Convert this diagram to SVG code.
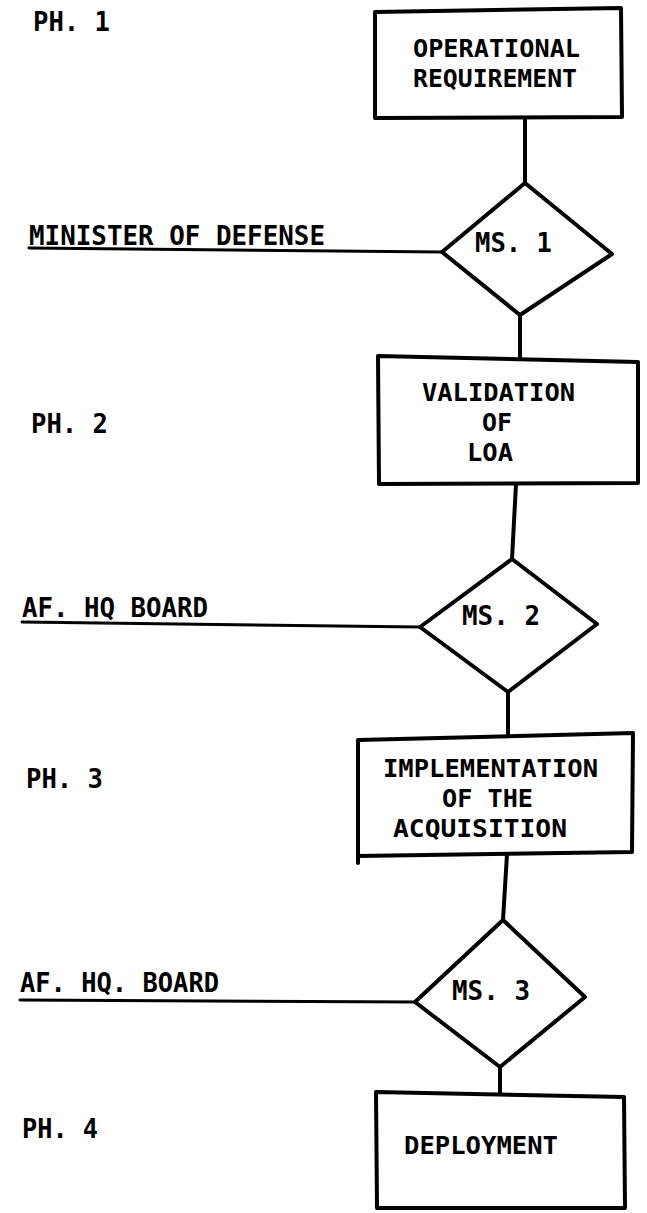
<svg xmlns="http://www.w3.org/2000/svg" width="647" height="1213" viewBox="0 0 647 1213">
<style>
.s{fill:#fff;stroke:#000;stroke-width:4;stroke-linejoin:round}
.c{fill:none;stroke:#000;stroke-width:4;stroke-linecap:round}
.u{fill:none;stroke:#000;stroke-width:3;stroke-linecap:round}
text{font-family:"DejaVu Sans Mono","Liberation Mono",monospace;font-weight:bold;font-size:26px;fill:#000}
.b{font-size:24px}
</style>
<rect width="647" height="1213" fill="#fff"/>
<g id="connectors">
<path class="c" d="M525,117 L525,183"/>
<path class="c" d="M520,315 L520,358"/>
<path class="c" d="M516,484 L512,559"/>
<path class="c" d="M508,692 L508,737"/>
<path class="c" d="M507,854 L503,920"/>
<path class="c" d="M500,1067 L500,1094"/>
<path class="u" d="M29,248 L442,252"/>
<path class="u" d="M22,622 L420,627"/>
<path class="u" d="M20,1000 L415,1002"/>
</g>
<g id="ph1"><text x="33" y="31" textLength="77" lengthAdjust="spacingAndGlyphs">PH. 1</text></g>
<g id="ph2"><text x="31" y="433" textLength="77" lengthAdjust="spacingAndGlyphs">PH. 2</text></g>
<g id="ph3"><text x="26" y="788" textLength="77" lengthAdjust="spacingAndGlyphs">PH. 3</text></g>
<g id="ph4"><text x="22" y="1138" textLength="76" lengthAdjust="spacingAndGlyphs">PH. 4</text></g>
<g id="label-minister"><text x="29" y="245" textLength="296" lengthAdjust="spacingAndGlyphs">MINISTER OF DEFENSE</text></g>
<g id="label-afhq"><text x="22" y="617" textLength="186" lengthAdjust="spacingAndGlyphs">AF. HQ BOARD</text></g>
<g id="label-afhq2"><text x="20" y="992" textLength="199" lengthAdjust="spacingAndGlyphs">AF. HQ. BOARD</text></g>
<g id="op-req">
<path class="s" d="M375,12 L621,8 L622,117 L375,118 Z"/>
<text class="b" x="413" y="57" textLength="167" lengthAdjust="spacingAndGlyphs">OPERATIONAL</text>
<text class="b" x="413" y="87" textLength="164" lengthAdjust="spacingAndGlyphs">REQUIREMENT</text>
</g>
<g id="ms1">
<path class="s" d="M525,183 L612,254 L520,315 L442,252 Z"/>
<text x="475" y="252" textLength="77" lengthAdjust="spacingAndGlyphs">MS. 1</text>
</g>
<g id="validation">
<path class="s" d="M378,356 L638,362 L638,483 L379,484 Z"/>
<text class="b" x="422" y="401" textLength="153" lengthAdjust="spacingAndGlyphs">VALIDATION</text>
<text class="b" x="482" y="431" textLength="30" lengthAdjust="spacingAndGlyphs">OF</text>
<text class="b" x="467" y="461" textLength="46" lengthAdjust="spacingAndGlyphs">LOA</text>
</g>
<g id="ms2">
<path class="s" d="M512,559 L597,624 L508,692 L420,627 Z"/>
<text x="462" y="625" textLength="78" lengthAdjust="spacingAndGlyphs">MS. 2</text>
</g>
<g id="implementation">
<path class="s" d="M358,740 L633,733 L632,852 L358,856 Z"/>
<path class="c" d="M358,856 L358,863"/>
<text class="b" x="383" y="777" textLength="215" lengthAdjust="spacingAndGlyphs">IMPLEMENTATION</text>
<text class="b" x="442" y="807" textLength="91" lengthAdjust="spacingAndGlyphs">OF THE</text>
<text class="b" x="393" y="837" textLength="174" lengthAdjust="spacingAndGlyphs">ACQUISITION</text>
</g>
<g id="ms3">
<path class="s" d="M503,920 L585,997 L500,1067 L415,1002 Z"/>
<text x="452" y="1000" textLength="78" lengthAdjust="spacingAndGlyphs">MS. 3</text>
</g>
<g id="deployment">
<path class="s" d="M376,1092 L624,1097 L625,1208 L377,1208 Z"/>
<text class="b" x="404" y="1154" textLength="154" lengthAdjust="spacingAndGlyphs">DEPLOYMENT</text>
</g>
</svg>
